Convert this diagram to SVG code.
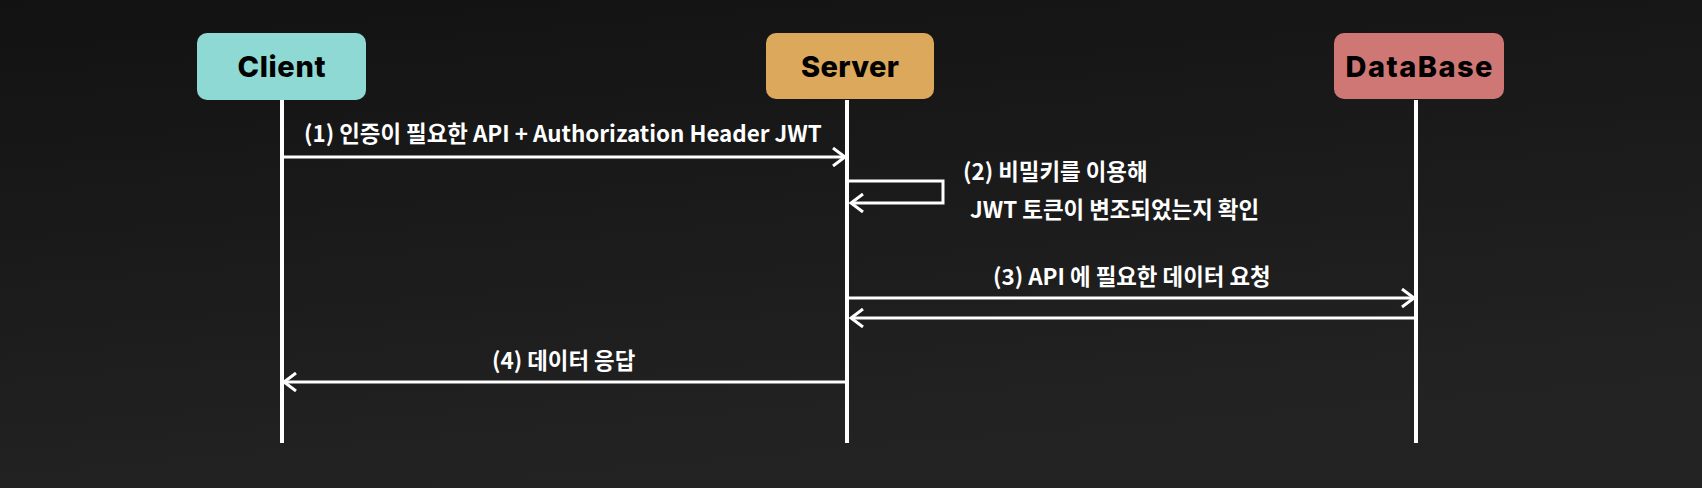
<svg xmlns="http://www.w3.org/2000/svg" width="1702" height="488" viewBox="0 0 1702 488">
<defs>
<linearGradient id="bg" x1="0" y1="0" x2="0.3" y2="1">
<stop offset="0" stop-color="#121212"/>
<stop offset="1" stop-color="#232323"/>
</linearGradient>
<marker id="arr" viewBox="-13 -10 16 20" refX="0" refY="0" markerWidth="16" markerHeight="20" markerUnits="userSpaceOnUse" orient="auto">
<path d="M-12,-9 L0,0 L-12,9" fill="none" stroke="#ffffff" stroke-width="3"/>
</marker>
<style>
.box{stroke:none}
.nlabel{font-family:Inter,"Liberation Sans",sans-serif;font-weight:800;font-size:29px;fill:#000;text-anchor:middle}
.life{stroke:#ffffff;stroke-width:4;fill:none}
.msg{stroke:#ffffff;stroke-width:3;fill:none}
.mlabel{font-family:"Noto Sans CJK KR","Noto Sans",sans-serif;font-weight:700;font-size:22.4px;fill:#ffffff}
</style>
</defs>
<rect width="1702" height="488" fill="url(#bg)"/>
<g id="connectors">
<line class="life" x1="282" y1="100" x2="282" y2="443"/>
<line class="life" x1="847" y1="100" x2="847" y2="443"/>
<line class="life" x1="1416" y1="100" x2="1416" y2="443"/>
<line class="msg" x1="282" y1="157" x2="845" y2="157" marker-end="url(#arr)"/>
<path class="msg" d="M849,181 H943 V203 H851" marker-end="url(#arr)"/>
<line class="msg" x1="849" y1="298" x2="1414" y2="298" marker-end="url(#arr)"/>
<line class="msg" x1="1414" y1="318" x2="851" y2="318" marker-end="url(#arr)"/>
<line class="msg" x1="845" y1="382" x2="284" y2="382" marker-end="url(#arr)"/>
<text class="mlabel" x="304" y="142">(1) 인증이 필요한 API + Authorization Header JWT</text>
<text class="mlabel" x="963" y="180">(2) 비밀키를 이용해</text>
<text class="mlabel" x="970" y="218">JWT 토큰이 변조되었는지 확인</text>
<text class="mlabel" x="993" y="285">(3) API 에 필요한 데이터 요청</text>
<text class="mlabel" x="492" y="369">(4) 데이터 응답</text>
</g>
<g id="client">
<rect class="box" x="197" y="33" width="169" height="67" rx="10" fill="#8ED9D4"/>
<text class="nlabel" x="281.5" y="76.5" textLength="88" lengthAdjust="spacing">Client</text>
</g>
<g id="server">
<rect class="box" x="766" y="33" width="168" height="66" rx="10" fill="#DBA85C"/>
<text class="nlabel" x="850" y="76.5" textLength="98" lengthAdjust="spacing">Server</text>
</g>
<g id="database">
<rect class="box" x="1334" y="33" width="170" height="66" rx="10" fill="#CE7775"/>
<text class="nlabel" x="1419" y="76.5" textLength="147" lengthAdjust="spacing">DataBase</text>
</g>
</svg>
